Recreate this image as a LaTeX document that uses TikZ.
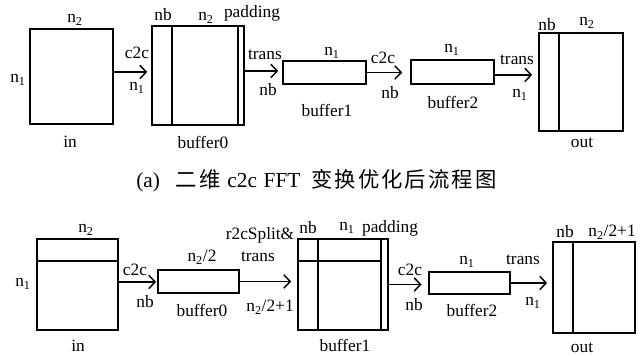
\documentclass[tikz,border=0pt]{standalone}
\usepackage{fontspec}
\setmainfont{Liberation Serif}
\newfontfamily\cjk[LetterSpace=10]{Noto Sans CJK SC}
\usetikzlibrary{arrows.meta,fit,calc}
\newcommand{\nsb}[2]{#1\textsubscript{#2}}
\tikzset{
  box/.style={draw, line width=1.15pt, inner sep=0pt},
  divider/.style={line width=1.15pt},
  arr/.style={line width=1.1pt, -{Straight Barb[length=4.8pt,width=10pt,line width=1.1pt]}},
  lbl/.style={inner sep=0pt, font=\fontsize{13}{15}\selectfont},
  captxt/.style={inner sep=0pt, font=\fontsize{16}{18}\selectfont},
}
\begin{document}
\begin{tikzpicture}[x=0.75pt,y=-0.75pt]
\useasboundingbox (0,0) rectangle (641,356);

% ---------- top row ----------
\node[box, fit={(30,29) (113,124)}] (in1) {};
\node[box, fit={(152,26) (244,125)}] (b01) {};
\draw[divider] ($(b01.north west)+(21,0)$) -- ($(b01.south west)+(21,0)$);
\draw[divider] ($(b01.north east)+(-7,0)$) -- ($(b01.south east)+(-7,0)$);
\node[box, fit={(283,61) (366,84)}] (b11) {};
\node[box, fit={(411,60) (494,84)}] (b21) {};
\node[box, fit={(539,33) (623,131)}] (out1) {};
\draw[divider] ($(out1.north west)+(21,0)$) -- ($(out1.south west)+(21,0)$);

\draw[arr, shorten >=3pt] ([yshift=3.4pt]in1.east) -- ([yshift=3.4pt]in1.east -| b01.west);
\draw[arr, shorten >=3pt] ([yshift=3.4pt]b01.east) -- ([yshift=3.4pt]b01.east -| b11.west);
\draw[arr, shorten >=6pt] (b11.east) -- (b11.east -| b21.west);
\draw[arr, shorten >=4.5pt] ([yshift=-2.2pt]b21.east) -- ([yshift=-2.2pt]b21.east -| out1.west);

\node[lbl] (t1) at (75,20) {\nsb{n}{2}};
\node[lbl] (t2) at (18,80) {\nsb{n}{1}};
\node[lbl] (t3) at (70,142) {in};
\node[lbl] (t4) at (137,53) {c2c};
\node[lbl] (t5) at (137,88) {\nsb{n}{1}};
\node[lbl] (t6) at (163,15) {nb};
\node[lbl] (t7) at (206,18) {\nsb{n}{2}};
\node[lbl] (t8) at (252,13) {padding};
\node[lbl] (t9) at (203,142) {buffer0};
\node[lbl] (t10) at (265,55) {trans};
\node[lbl] (t11) at (268,90) {nb};
\node[lbl] (t12) at (332,53) {\nsb{n}{1}};
\node[lbl] (t13) at (327,110) {buffer1};
\node[lbl] (t14) at (383,58) {c2c};
\node[lbl] (t15) at (390,93) {nb};
\node[lbl] (t16) at (452,50) {\nsb{n}{1}};
\node[lbl] (t17) at (453,102) {buffer2};
\node[lbl] (t18) at (517,60) {trans};
\node[lbl] (t19) at (520,95) {\nsb{n}{1}};
\node[lbl] (t20) at (547,25) {nb};
\node[lbl] (t21) at (587,23) {\nsb{n}{2}};
\node[lbl] (t22) at (582,143) {out};

% ---------- caption ----------
\node[captxt] (caption) at (316.5,181) {(a)\hspace{12pt}{\cjk 二维}\hspace{5pt}c2c\hspace{5pt}FFT\hspace{8pt}{\cjk 变换优化后流程图}};

% ---------- bottom row ----------
\node[box, fit={(37,239) (118,330)}] (in2) {};
\draw[divider] ($(in2.north west)+(0,23)$) -- ($(in2.north east)+(0,23)$);
\node[box, fit={(158,270) (239,293)}] (b02) {};
\node[box, fit={(298,239) (388,330)}] (b12) {};
\draw[divider] ($(b12.north west)+(21,0)$) -- ($(b12.south west)+(21,0)$);
\draw[divider] ($(b12.north east)+(-8,0)$) -- ($(b12.south east)+(-8,0)$);
\draw[divider] ($(b12.north west)+(0,23)$) -- ($(b12.north east)+(-8,23)$);
\node[box, fit={(429,272) (510,294)}] (b22) {};
\node[box, fit={(553,242) (635,333)}] (out2) {};
\draw[divider] ($(out2.north west)+(21,0)$) -- ($(out2.south west)+(21,0)$);

\draw[arr, shorten >=0.8pt] ([yshift=1.9pt]in2.east) -- ([yshift=1.9pt]in2.east -| b02.west);
\draw[arr, shorten >=4.5pt] (b02.east) -- (b02.east -| b12.west);
\draw[arr, shorten >=5pt] (b12.east) -- (b12.east -| b22.west);
\draw[arr, shorten >=3.8pt] (b22.east) -- (b22.east -| out2.west);

\node[lbl] (s1) at (86,230) {\nsb{n}{2}};
\node[lbl] (s2) at (23,284) {\nsb{n}{1}};
\node[lbl] (s3) at (78,346) {in};
\node[lbl] (s4) at (135,270) {c2c};
\node[lbl] (s5) at (145,302) {nb};
\node[lbl] (s6) at (202,257) {\nsb{n}{2}/2};
\node[lbl] (s7) at (202,310) {buffer0};
\node[lbl] (s8) at (260,235) {r2cSplit\&};
\node[lbl] (s9) at (258,257) {trans};
\node[lbl] (s10) at (270,307) {\nsb{n}{2}/2+1};
\node[lbl] (s11) at (308,228) {nb};
\node[lbl] (s12) at (347,228) {\nsb{n}{1}};
\node[lbl] (s13) at (390,228) {padding};
\node[lbl] (s14) at (345,345) {buffer1};
\node[lbl] (s15) at (410,270) {c2c};
\node[lbl] (s16) at (414,305) {nb};
\node[lbl] (s17) at (467,262) {\nsb{n}{1}};
\node[lbl] (s18) at (472,310) {buffer2};
\node[lbl] (s19) at (523,260) {trans};
\node[lbl] (s20) at (533,303) {\nsb{n}{1}};
\node[lbl] (s21) at (565,232) {nb};
\node[lbl] (s22) at (612,232) {\nsb{n}{2}/2+1};
\node[lbl] (s23) at (582,348) {out};
\end{tikzpicture}
\end{document}
